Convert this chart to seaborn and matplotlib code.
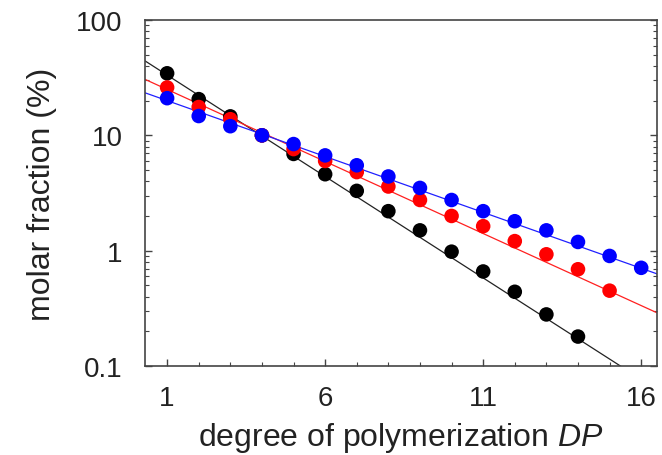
import seaborn as sns
import matplotlib.pyplot as plt
import matplotlib.ticker as mticker
import pandas as pd
import numpy as np

# degree of polymerization and molar fractions (%)
dp_black = list(range(1, 15))
frac_black = [34.5, 20.6, 14.6, 10.0, 6.9, 4.6, 3.3, 2.2, 1.5, 0.98, 0.66, 0.44, 0.28, 0.18]
dp_red = list(range(1, 16))
frac_red = [26.0, 17.6, 13.8, 10.0, 7.6, 6.0, 4.8, 3.6, 2.75, 2.0, 1.63, 1.21, 0.93, 0.69, 0.45]
dp_blue = list(range(1, 17))
frac_blue = [21.0, 14.7, 12.0, 10.0, 8.4, 6.7, 5.5, 4.4, 3.5, 2.75, 2.2, 1.8, 1.5, 1.19, 0.90, 0.71]

# geometric (Flory) distribution parameter of each fitted line
fit_p = {'black': 0.667, 'red': 0.75, 'blue': 0.80}

series_colors = {'black': '#000000', 'red': '#ff0000', 'blue': '#0000ff'}
line_colors = {'black': '#222222', 'red': '#ff2020', 'blue': '#2020ff'}

points_df = pd.concat([
    pd.DataFrame({'DP': dp_black, 'frac': frac_black, 'series': 'black'}),
    pd.DataFrame({'DP': dp_red, 'frac': frac_red, 'series': 'red'}),
    pd.DataFrame({'DP': dp_blue, 'frac': frac_blue, 'series': 'blue'}),
])

x_min, x_max = 0.3, 16.5
xs = np.linspace(x_min, x_max, 200)
fit_df = pd.concat([
    pd.DataFrame({'DP': xs, 'frac': 100 * (1 - p) * p ** (xs - 1), 'series': name})
    for name, p in fit_p.items()
])

sns.set_style("ticks")
plt.rcParams['font.family'] = ['Liberation Sans', 'DejaVu Sans']
plt.rcParams['mathtext.fontset'] = 'custom'
plt.rcParams['mathtext.rm'] = 'Liberation Sans'
plt.rcParams['mathtext.it'] = 'Liberation Sans:italic'

fig = plt.figure(figsize=(6.62, 4.56), dpi=100)
ax = fig.add_axes([145 / 662, 1 - 367 / 456, 512 / 662, 346 / 456])

sns.lineplot(data=fit_df, x='DP', y='frac', hue='series', palette=line_colors,
             linewidth=0.9, legend=False, ax=ax, zorder=2)
sns.scatterplot(data=points_df, x='DP', y='frac', hue='series', palette=series_colors,
                s=110, edgecolor='none', legend=False, ax=ax, zorder=3)

ax.set_yscale('log')
ax.set_ylim(0.1, 100)
ax.set_xlim(x_min, x_max)
ax.set_xticks([1, 6, 11, 16])
ax.xaxis.set_minor_locator(mticker.MultipleLocator(1))
ax.yaxis.set_major_formatter(mticker.FuncFormatter(lambda v, _: f'{v:g}'))
ax.yaxis.set_minor_locator(mticker.LogLocator(base=10, subs=np.arange(2, 10)))
ax.yaxis.set_minor_formatter(mticker.NullFormatter())

for s in ax.spines.values():
    s.set_color('#444444')
    s.set_linewidth(1.2)

ax.tick_params(axis='both', which='both', direction='in', colors='#444444',
               labelcolor='#222222', labelsize=20)
ax.tick_params(axis='x', which='both', pad=14)
ax.tick_params(axis='y', which='both', right=True, pad=16)
ax.tick_params(axis='both', which='major', length=5, width=1)
ax.tick_params(axis='both', which='minor', length=3, width=0.8)

ax.set_xlabel(r'degree of polymerization $\mathit{DP}$', fontsize=23, color='#222222', labelpad=6)
ax.set_ylabel('molar fraction (%)', fontsize=23, color='#222222', labelpad=14)

plt.savefig('out.png', dpi=100)
